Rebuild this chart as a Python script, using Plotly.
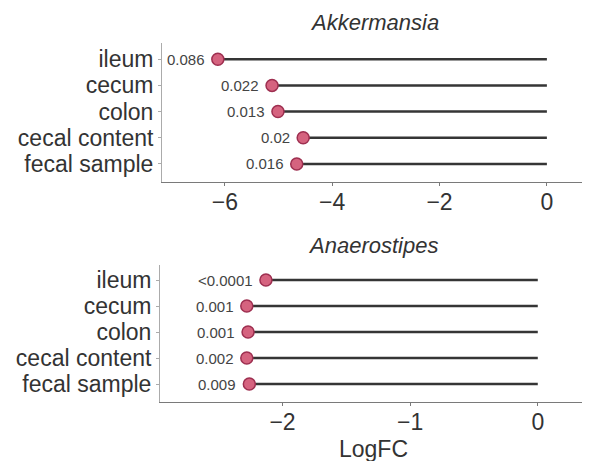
import plotly.graph_objects as go
from plotly.subplots import make_subplots

# sample types, top to bottom
sites = ["ileum", "cecum", "colon", "cecal content", "fecal sample"]

# Akkermansia : log fold change and p-value labels
akk_logfc = [-6.13, -5.12, -5.01, -4.54, -4.66]
akk_p = ["0.086", "0.022", "0.013", "0.02", "0.016"]

# Anaerostipes
ana_logfc = [-2.13, -2.28, -2.27, -2.28, -2.26]
ana_p = ["<0.0001", "0.001", "0.001", "0.002", "0.009"]

panels = [("Akkermansia", akk_logfc, akk_p, [-7.17, 0.71], [-6, -4, -2, 0]),
          ("Anaerostipes", ana_logfc, ana_p, [-2.96, 0.37], [-2, -1, 0])]

font_main = "Liberation Sans, Arial, sans-serif"
dot_fill = "#d5637f"
dot_line = "#9e2f50"
stem_col = "#353535"
txt_col = "#333333"

# page body has an 8px margin, so the figure is placed 8px in
W, H, OFF = 582, 453, 8


def px_x(p):
    return (p - OFF) / W


def px_y(p):
    return 1 - (p - OFF) / H


fig = make_subplots(rows=2, cols=1, vertical_spacing=0.2)

for i, (name, vals, plabs, xr, ticks) in enumerate(panels):
    row = i + 1
    # stems from the dot to zero
    sx, sy = [], []
    for v, s in zip(vals, sites):
        sx += [v, 0, None]
        sy += [s, s, None]
    fig.add_trace(go.Scatter(x=sx, y=sy, mode="lines",
                             line=dict(color=stem_col, width=2.5),
                             hoverinfo="skip", showlegend=False),
                  row=row, col=1)
    fig.add_trace(go.Scatter(x=vals, y=sites, mode="markers",
                             marker=dict(size=12, color=dot_fill,
                                         line=dict(color=dot_line, width=1.5)),
                             showlegend=False),
                  row=row, col=1)
    xa = "x" if row == 1 else "x2"
    ya = "y" if row == 1 else "y2"
    for v, s, p in zip(vals, sites, plabs):
        fig.add_annotation(x=v, y=s, xref=xa, yref=ya, text=p,
                           showarrow=False, xanchor="right", xshift=-11,
                           font=dict(family=font_main, size=15, color="#444444"))
    fig.update_xaxes(range=xr, tickvals=ticks, row=row, col=1)
    fig.update_yaxes(categoryorder="array", categoryarray=sites[::-1],
                     tickmode="array", tickvals=sites, ticktext=sites,
                     range=[-0.69, 4.62 if row == 1 else 4.58], row=row, col=1)

fig.update_xaxes(showgrid=False, zeroline=False, showline=True, linecolor="#7a7a7a",
                 linewidth=1, ticks="outside", ticklen=3, tickcolor="#7a7a7a",
                 ticklabelstandoff=-4,
                 tickfont=dict(family=font_main, size=23, color=txt_col))
fig.update_yaxes(showgrid=False, zeroline=False, showline=True, linecolor="#ababab",
                 linewidth=1, ticks="outside", ticklen=3, tickcolor="#ababab",
                 tickfont=dict(family=font_main, size=23, color=txt_col))

fig.update_layout(
    width=W, height=H,
    margin=dict(l=0, r=0, t=0, b=0),
    plot_bgcolor="white", paper_bgcolor="white",
    xaxis=dict(domain=[px_x(162), px_x(585)], automargin=False),
    yaxis=dict(domain=[px_y(182), px_y(43)], automargin=False),
    xaxis2=dict(domain=[px_x(160), px_x(585)], automargin=False),
    yaxis2=dict(domain=[px_y(402), px_y(265)], automargin=False),
)

fig.add_annotation(x=px_x(374), y=px_y(22), xref="paper", yref="paper",
                   text="<i>Akkermansia</i>", showarrow=False, yanchor="middle",
                   font=dict(family=font_main, size=22, color=txt_col))
fig.add_annotation(x=px_x(373), y=px_y(245), xref="paper", yref="paper",
                   text="<i>Anaerostipes</i>", showarrow=False, yanchor="middle",
                   font=dict(family=font_main, size=22, color=txt_col))
fig.add_annotation(x=px_x(373), y=px_y(449), xref="paper", yref="paper",
                   text="LogFC", showarrow=False, yanchor="middle",
                   font=dict(family=font_main, size=23, color=txt_col))

fig.write_html("out.html")
